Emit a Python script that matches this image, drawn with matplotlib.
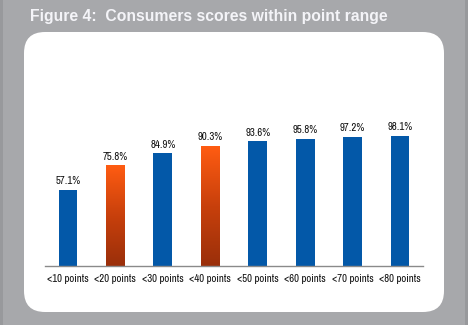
import matplotlib

matplotlib.use("Agg")
import matplotlib.pyplot as plt
import numpy as np
from matplotlib.colors import LinearSegmentedColormap
from matplotlib.patches import FancyBboxPatch, Rectangle

categories = ["<10 points", "<20 points", "<30 points", "<40 points",
              "<50 points", "<60 points", "<70 points", "<80 points"]
values = [57.1, 75.8, 84.9, 90.3, 93.6, 95.8, 97.2, 98.1]
highlight = [False, True, False, True, False, False, False, False]

W, H = 468, 325
BG = "#a7a8ab"
BLUE = "#0358a8"
NARROW = ["Archivo Narrow", "Roboto Condensed", "DejaVu Sans"]

fig = plt.figure(figsize=(W / 100, H / 100), dpi=100, facecolor=BG)

# darker strips at the outer edges
for x0 in (0, W - 3):
    fig.patches.append(Rectangle((x0 / W, 0), 3 / W, 1, transform=fig.transFigure,
                                 facecolor="#98999c", edgecolor="none", zorder=-2))

# white rounded panel (pixel coords, y from top)
px0, px1, py0, py1 = 24, 444, 32, 312
fig.patches.append(FancyBboxPatch(
    (px0 / W, 1 - py1 / H), (px1 - px0) / W, (py1 - py0) / H,
    boxstyle="round,pad=0,rounding_size=0.045", transform=fig.transFigure,
    facecolor="white", edgecolor="none", mutation_aspect=W / H, zorder=-1))

fig.text(30 / W, 1 - 17 / H, "Figure 4:  Consumers scores within point range",
         color="#f4f4f8", fontsize=11.3, fontweight="bold", va="center", ha="left",
         family=["Liberation Sans", "DejaVu Sans"])

# axes: baseline at y=265.7 px, 100% at y=133 px; x from 45 to 423 px
ax_left, ax_right = 45, 423
base_y, top_y = 265.7, 133.0
ax = fig.add_axes([ax_left / W, 1 - base_y / H, (ax_right - ax_left) / W,
                   (base_y - top_y) / H])
ax.set_facecolor("none")
ax.set_zorder(1)

x = np.arange(len(categories))
spacing = 47.43

orange = LinearSegmentedColormap.from_list("og", ["#9a2f0a", "#c8400c", "#ff5c12"])
grad = np.linspace(0, 1, 256).reshape(-1, 1)

width = 0.4
for xi, v, hl in zip(x, values, highlight):
    if hl:
        bar = ax.bar(xi, v, width=width, color="none", edgecolor="none")[0]
        im = ax.imshow(grad, cmap=orange, origin="lower", aspect="auto",
                       extent=(xi - width / 2, xi + width / 2, 0, v), zorder=2)
        im.set_clip_path(bar)
    else:
        ax.bar(xi, v, width=width, color=BLUE, edgecolor="none", zorder=2)
    ax.text(xi, v + 2.6, f"{v:.1f}%", ha="center", va="bottom", fontsize=7.8,
            fontweight="bold", color="#111111", family=NARROW, clip_on=False)

ax.set_xlim(-(68 - ax_left) / spacing, 7 + (ax_right - 400) / spacing)
ax.set_ylim(0, 100)

for s in ["top", "right", "left"]:
    ax.spines[s].set_visible(False)
ax.spines["bottom"].set_color("#8a8a8a")
ax.spines["bottom"].set_linewidth(1.0)
ax.set_yticks([])
ax.set_xticks(x)
ax.set_xticklabels(categories, fontsize=7.8, family=NARROW, color="#111111")
ax.tick_params(axis="x", length=0, pad=6)

fig.savefig("out.png", dpi=100, facecolor=BG)
